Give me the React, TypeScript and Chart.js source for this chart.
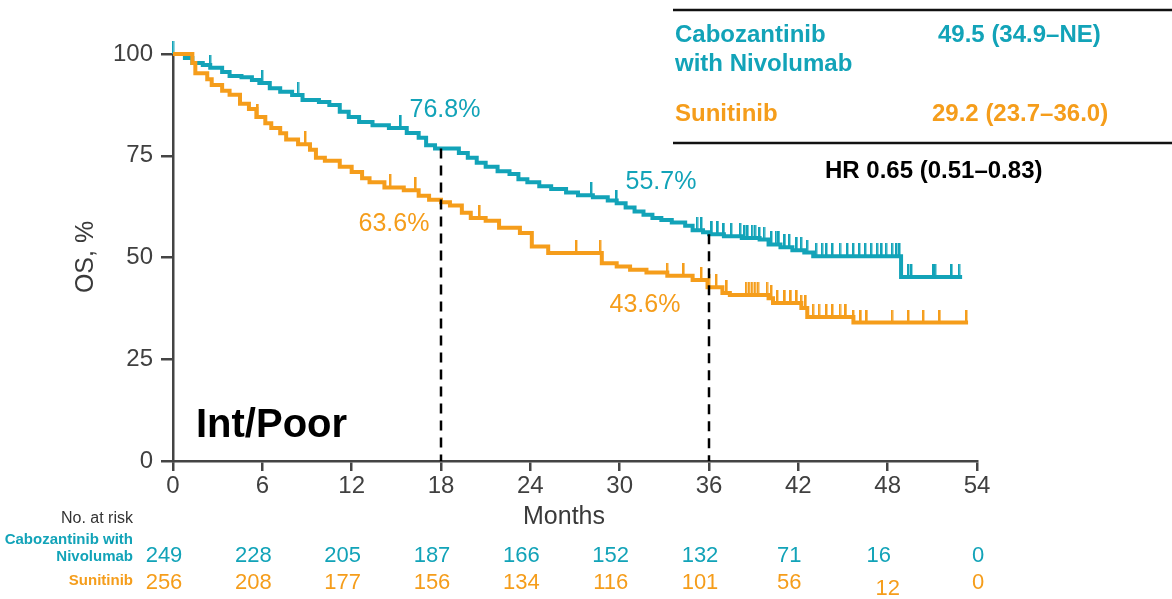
import React, { useEffect, useRef } from 'react';
import { Chart, registerables } from 'chart.js';
Chart.register(...registerables);

const TEAL = '#12a3b8';
const ORANGE = '#f59d1b';
const AXIS = '#444444';
const FONT = "'Liberation Sans', Arial, sans-serif";

// Cabozantinib with Nivolumab – KM step curve (months, OS %)
const cabTimes = [0, 0.8, 1.3, 2.0, 2.5, 3.3, 3.8, 4.6, 5.3, 5.8, 6.5, 7.2, 8.0, 8.7, 9.8, 10.5, 11.2, 11.8, 12.5, 13.4, 14.5, 15.7, 16.5, 17.0, 17.6, 19.2, 19.8, 20.4, 21.0, 21.8, 22.6, 23.2, 23.8, 24.6, 25.4, 26.4, 27.2, 28.2, 29.2, 29.8, 30.4, 31.0, 31.6, 32.2, 32.8, 33.5, 34.4, 34.9, 35.6, 36.0, 37.0, 38.2, 39.4, 40.0, 40.8, 41.6, 42.4, 43.0, 48.9, 53.0];
const cabSurv = [100, 99, 97.8, 97.3, 96.6, 95.6, 94.6, 94.3, 93.6, 92.9, 91.6, 90.7, 89.9, 88.7, 88.2, 87.5, 85.8, 84.5, 83.3, 82.5, 81.8, 80.6, 79.4, 77.6, 76.8, 75.7, 74.5, 73.3, 72.3, 71.2, 70.5, 69.2, 68.5, 67.5, 66.8, 66, 65.3, 64.8, 64, 63.3, 62.3, 61.3, 60.5, 59.7, 59.2, 58.6, 57.8, 56.7, 56.2, 55.7, 55.2, 54.8, 54.4, 53.2, 52.5, 51.8, 51.2, 50.3, 45.2, 45.2];
const cabCensor = [0, 2.5, 6.0, 8.4, 15.3, 28.1, 29.8, 35.2, 35.5, 36.2, 36.6, 37.0, 37.5, 38.1, 38.4, 38.6, 38.9, 39.1, 39.4, 39.7, 40.2, 40.5, 40.7, 41.1, 41.4, 41.9, 42.2, 42.6, 43.2, 43.6, 43.9, 44.3, 44.8, 45.3, 45.7, 46.1, 46.5, 46.9, 47.3, 47.6, 47.9, 48.3, 48.6, 48.8, 49.4, 49.6, 51.1, 51.2, 52.3, 52.8];

// Sunitinib – KM step curve
const sunTimes = [0, 1.3, 1.5, 2.3, 2.6, 3.3, 3.8, 4.5, 5.1, 5.6, 6.2, 6.6, 7.2, 7.6, 8.4, 9.2, 9.6, 10.2, 11.2, 12.0, 12.7, 13.2, 14.2, 15.5, 16.5, 17.2, 18.0, 18.6, 19.4, 20.0, 21.0, 21.9, 23.3, 24.1, 25.2, 28.8, 29.8, 30.7, 31.8, 33.2, 34.9, 35.9, 36.9, 37.4, 40.0, 40.3, 42.2, 42.6, 45.7, 53.4];
const sunSurv = [100, 97.8, 95.3, 93.8, 92.4, 91, 90, 87.8, 86.5, 84.5, 83, 81.8, 80.5, 79, 77.8, 76.5, 74.5, 73.8, 72.3, 71, 69.5, 68.5, 67.2, 66.5, 65.2, 64.2, 63.6, 62.8, 61, 59.7, 59, 57.3, 56, 52.7, 51.1, 48.6, 47.8, 47, 46.3, 45.5, 44.5, 42.7, 41.3, 40.8, 40.0, 38.8, 37.6, 35.4, 34.0, 34.0];
const sunCensor = [5.7, 8.9, 14.6, 16.3, 20.6, 27.1, 28.7, 33.2, 34.3, 35.5, 36.0, 36.5, 37.2, 38.5, 38.7, 38.9, 39.1, 39.3, 39.9, 40.2, 40.6, 41.1, 41.5, 41.9, 42.2, 42.5, 43.0, 43.4, 43.9, 44.3, 44.8, 45.2, 45.7, 46.2, 46.6, 48.3, 49.4, 50.4, 51.5, 53.3];

const xTickValues = [0, 6, 12, 18, 24, 30, 36, 42, 48, 54];
const yTickValues = [0, 25, 50, 75, 100];
const cabAtRisk = [249, 228, 205, 187, 166, 152, 132, 71, 16, 0];
const sunAtRisk = [256, 208, 177, 156, 134, 116, 101, 56, 12, 0];

const landmarkMonths = [18, 36];
const landmarkCab = [76.8, 55.7];
const landmarkSun = [63.6, 43.6];

const survAt = (times: number[], surv: number[], t: number) => {
  let v = surv[0];
  for (let i = 0; i < times.length; i++) {
    if (times[i] <= t) v = surv[i];
  }
  return v;
};

const makeTick = (color: string) => {
  const c = document.createElement('canvas');
  c.width = 3;
  c.height = 26;
  const g = c.getContext('2d')!;
  g.fillStyle = color;
  g.globalAlpha = 0.45;
  g.fillRect(0, 0, 3, 13);
  g.globalAlpha = 1;
  g.fillRect(1, 0, 1, 13);
  g.fillRect(0, 0, 2, 13);
  return c;
};

const textPlugin = {
  id: 'kmTexts',
  afterDraw(chart: any) {
    const ctx = chart.ctx as CanvasRenderingContext2D;
    const xs = chart.scales.x;
    const ys = chart.scales.y;
    ctx.save();

    // Y title
    ctx.save();
    ctx.fillStyle = '#3a3a3a';
    ctx.font = `25px ${FONT}`;
    ctx.translate(93, 257);
    ctx.rotate(-Math.PI / 2);
    ctx.textAlign = 'center';
    ctx.textBaseline = 'alphabetic';
    ctx.fillText('OS, %', 0, 0);
    ctx.restore();

    // X title
    ctx.fillStyle = '#3a3a3a';
    ctx.font = `25px ${FONT}`;
    ctx.textAlign = 'center';
    ctx.textBaseline = 'middle';
    ctx.fillText('Months', 564, 517);

    // Landmark labels
    ctx.font = `25px ${FONT}`;
    ctx.fillStyle = TEAL;
    ctx.fillText(`${landmarkCab[0]}%`, xs.getPixelForValue(landmarkMonths[0]) + 4, ys.getPixelForValue(landmarkCab[0]) - 38);
    ctx.fillText(`${landmarkCab[1]}%`, xs.getPixelForValue(landmarkMonths[1]) - 48, ys.getPixelForValue(landmarkCab[1]) - 52);
    ctx.fillStyle = ORANGE;
    ctx.fillText(`${landmarkSun[0]}%`, xs.getPixelForValue(landmarkMonths[0]) - 47, ys.getPixelForValue(landmarkSun[0]) + 22);
    ctx.fillText(`${landmarkSun[1]}%`, xs.getPixelForValue(landmarkMonths[1]) - 64, ys.getPixelForValue(landmarkSun[1]) + 22);

    // Panel label
    ctx.fillStyle = '#000';
    ctx.font = `bold 40px ${FONT}`;
    ctx.textAlign = 'left';
    ctx.textBaseline = 'alphabetic';
    ctx.fillText('Int/Poor', 196, 437);

    // Median table
    ctx.strokeStyle = '#111';
    ctx.lineWidth = 2.5;
    ctx.beginPath();
    ctx.moveTo(673, 10);
    ctx.lineTo(1172, 10);
    ctx.moveTo(673, 143);
    ctx.lineTo(1172, 143);
    ctx.stroke();
    ctx.font = `bold 24px ${FONT}`;
    ctx.textBaseline = 'middle';
    ctx.fillStyle = TEAL;
    ctx.fillText('Cabozantinib', 675, 35);
    ctx.fillText('with Nivolumab', 675, 64);
    ctx.fillText('49.5 (34.9–NE)', 938, 35);
    ctx.fillStyle = ORANGE;
    ctx.fillText('Sunitinib', 675, 114);
    ctx.fillText('29.2 (23.7–36.0)', 932, 114);
    ctx.fillStyle = '#000';
    ctx.fillText('HR 0.65 (0.51–0.83)', 825, 171);

    // At-risk table
    ctx.textAlign = 'right';
    ctx.fillStyle = '#333';
    ctx.font = `16px ${FONT}`;
    ctx.fillText('No. at risk', 133, 519);
    ctx.font = `bold 15px ${FONT}`;
    ctx.fillStyle = TEAL;
    ctx.fillText('Cabozantinib with', 133, 540);
    ctx.fillText('Nivolumab', 133, 557);
    ctx.fillStyle = ORANGE;
    ctx.fillText('Sunitinib', 133, 581);

    ctx.textAlign = 'center';
    ctx.font = `22px ${FONT}`;
    xTickValues.forEach((m, i) => {
      const last = i === xTickValues.length - 1;
      const px = xs.getPixelForValue(m) + (last ? 1 : -9);
      ctx.fillStyle = TEAL;
      ctx.fillText(String(cabAtRisk[i]), px, 556);
      ctx.fillStyle = ORANGE;
      const quirk = i === xTickValues.length - 2;
      ctx.fillText(String(sunAtRisk[i]), quirk ? px + 9 : px, quirk ? 589 : 583);
    });

    ctx.restore();
  },
};

export default function App() {
  const ref = useRef<HTMLCanvasElement | null>(null);

  useEffect(() => {
    if (!ref.current) return;
    const cabPts = cabTimes.map((t, i) => ({ x: t, y: cabSurv[i] }));
    const sunPts = sunTimes.map((t, i) => ({ x: t, y: sunSurv[i] }));
    const cabCens = cabCensor.map((t) => ({ x: t, y: survAt(cabTimes, cabSurv, t) }));
    const sunCens = sunCensor.map((t) => ({ x: t, y: survAt(sunTimes, sunSurv, t) }));
    const dash = (i: number) => [
      { x: landmarkMonths[i], y: landmarkCab[i] },
      { x: landmarkMonths[i], y: 0 },
    ];

    const chart = new Chart(ref.current, {
      type: 'line',
      data: {
        datasets: [
          { type: 'line', data: dash(0), borderColor: '#000', borderWidth: 2.5, borderDash: [10, 7], pointRadius: 0, clip: false } as any,
          { type: 'line', data: dash(1), borderColor: '#000', borderWidth: 2.5, borderDash: [10, 7], pointRadius: 0, clip: false } as any,
          { type: 'line', label: 'Sunitinib', data: sunPts, borderColor: ORANGE, borderWidth: 4, stepped: 'before', pointRadius: 0, clip: false } as any,
          { type: 'scatter', data: sunCens, showLine: false, pointStyle: makeTick(ORANGE), pointRadius: 5, clip: false } as any,
          { type: 'line', label: 'Cabozantinib with Nivolumab', data: cabPts, borderColor: TEAL, borderWidth: 4, stepped: 'before', pointRadius: 0, clip: false } as any,
          { type: 'scatter', data: cabCens, showLine: false, pointStyle: makeTick(TEAL), pointRadius: 5, clip: false } as any,
        ],
      },
      options: {
        responsive: false,
        animation: false,
        devicePixelRatio: 1,
        layout: { padding: { left: 0, top: 54, right: 195, bottom: 0 } },
        plugins: { legend: { display: false }, tooltip: { enabled: false } },
        scales: {
          x: {
            type: 'linear',
            min: 0,
            max: 54,
            afterBuildTicks: (s: any) => {
              s.ticks = xTickValues.map((v) => ({ value: v }));
            },
            afterFit: (s: any) => {
              s.height = 138;
            },
            ticks: { color: '#404040', font: { size: 24, family: FONT }, padding: 1, maxRotation: 0, autoSkip: false },
            grid: { drawOnChartArea: false, drawTicks: true, tickLength: 10, color: AXIS, lineWidth: 2.5 },
            border: { display: true, color: AXIS, width: 2.5 },
          },
          y: {
            type: 'linear',
            min: 0,
            max: 100,
            afterBuildTicks: (s: any) => {
              s.ticks = yTickValues.map((v) => ({ value: v }));
            },
            afterFit: (s: any) => {
              s.width = 173;
            },
            ticks: { color: '#404040', font: { size: 24, family: FONT }, padding: 8 },
            grid: { drawOnChartArea: false, drawTicks: true, tickLength: 12, color: AXIS, lineWidth: 2.5 },
            border: { display: true, color: AXIS, width: 2.5 },
          },
        },
      } as any,
      plugins: [textPlugin],
    });
    return () => chart.destroy();
  }, []);

  return (
    <div style={{ position: 'absolute', left: 0, top: 0, width: 1172, height: 599, background: '#fff' }}>
      <canvas ref={ref} width={1172} height={599} style={{ display: 'block' }} />
    </div>
  );
}
